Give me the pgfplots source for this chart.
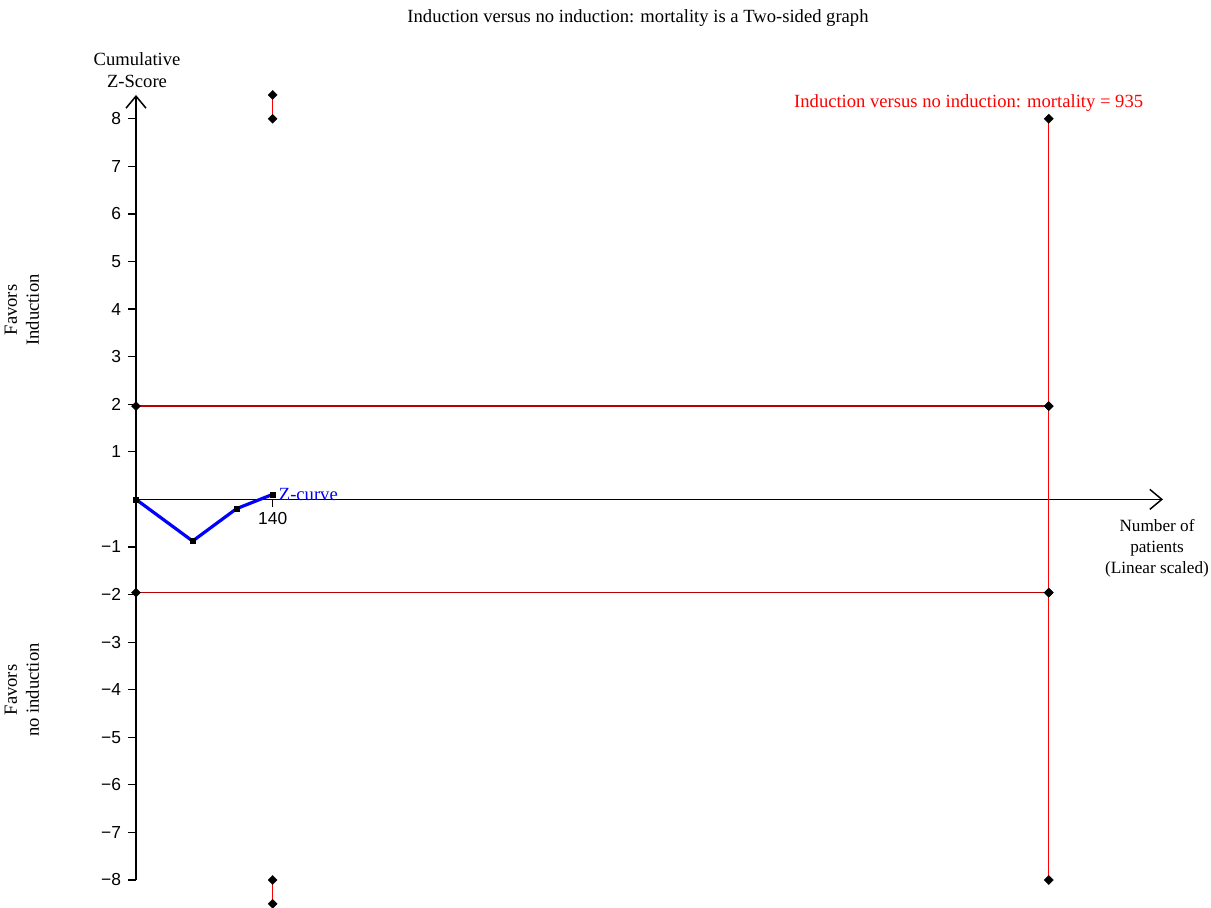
\documentclass[border=0pt]{standalone}
\usepackage{fontspec}
\setmainfont{Liberation Serif}
\setsansfont{Liberation Sans}
\usepackage{pgfplots}
\pgfplotsset{compat=1.18}
\usetikzlibrary{arrows.meta}

\definecolor{bndred}{RGB}{185,0,0}
\definecolor{infred}{RGB}{255,0,0}
\definecolor{zblue}{RGB}{0,0,255}
\newcommand{\lbl}{\fontsize{9.3}{11}\selectfont}

\begin{document}
\begin{tikzpicture}
\useasboundingbox (-68pt,-13.5pt) rectangle (537.5pt,440pt);
\begin{axis}[
  scale only axis,
  width=513.5pt, height=392.5pt,
  xmin=0, xmax=1052,
  ymin=-8, ymax=8.5,
  axis x line=middle,
  axis y line=left,
  axis line style={line width=0.75pt,-{Straight Barb[length=6pt,width=10pt]}},
  clip=false,
  xtick={140},
  xticklabels={140},
  ytick={-8,-7,-6,-5,-4,-3,-2,-1,1,2,3,4,5,6,7,8},
  yticklabels={−8,−7,−6,−5,−4,−3,−2,−1,1,2,3,4,5,6,7,8},
  tick align=outside,
  major tick length=4pt,
  tick style={black,line width=0.6pt},
  tick label style={font=\sffamily\fontsize{8.7}{10}\selectfont},
  xticklabel style={yshift=1pt},
  bnd/.style={line width=0.7pt, mark=square*, mark size=1.6pt,
    mark options={rotate=45,fill=black,draw=black,line width=0.2pt}},
]
% monitoring boundaries at +/-1.96
\addplot[bndred, bnd] coordinates {(0,1.96) (935,1.96)};
\addplot[bndred, bnd] coordinates {(0,-1.96) (935,-1.96)};
% required information size
\addplot[infred, bnd] coordinates {(935,-8) (935,1.96) (935,-1.96) (935,8)};
% boundary stubs at the last analysis
\addplot[infred, bnd] coordinates {(140,8) (140,8.5)};
\addplot[infred, bnd] coordinates {(140,-8) (140,-8.5)};
% cumulative Z-curve
\addplot[zblue, line width=1.6pt, mark=square*, mark size=1.3pt,
  mark options={fill=black,draw=black,line width=0.2pt}]
  coordinates {(0,0) (58,-0.876) (103,-0.195) (140,0.105)};
\node[zblue, anchor=west, font=\lbl, inner sep=0pt] at (axis cs:146,0.105) {Z-curve};
\node[infred, anchor=east, font=\lbl, inner sep=0pt] at (axis cs:1032,8.34) {Induction versus no induction: mortality = 935};
\end{axis}
% titles and side labels
\node[font=\lbl] at (251pt,431pt) {Induction versus no induction: mortality is a Two-sided graph};
\node[font=\lbl, align=center] at (0.5pt,405pt) {Cumulative\\Z-Score};
\node[font=\lbl, align=center, rotate=90] at (-57pt,285pt) {Favors\\Induction};
\node[font=\lbl, align=center, rotate=90] at (-57pt,95pt) {Favors\\no induction};
\node[font=\fontsize{8.6}{10.6}\selectfont, align=center] at (510.5pt,166pt) {Number of\\patients\\(Linear scaled)};
\end{tikzpicture}
\end{document}
